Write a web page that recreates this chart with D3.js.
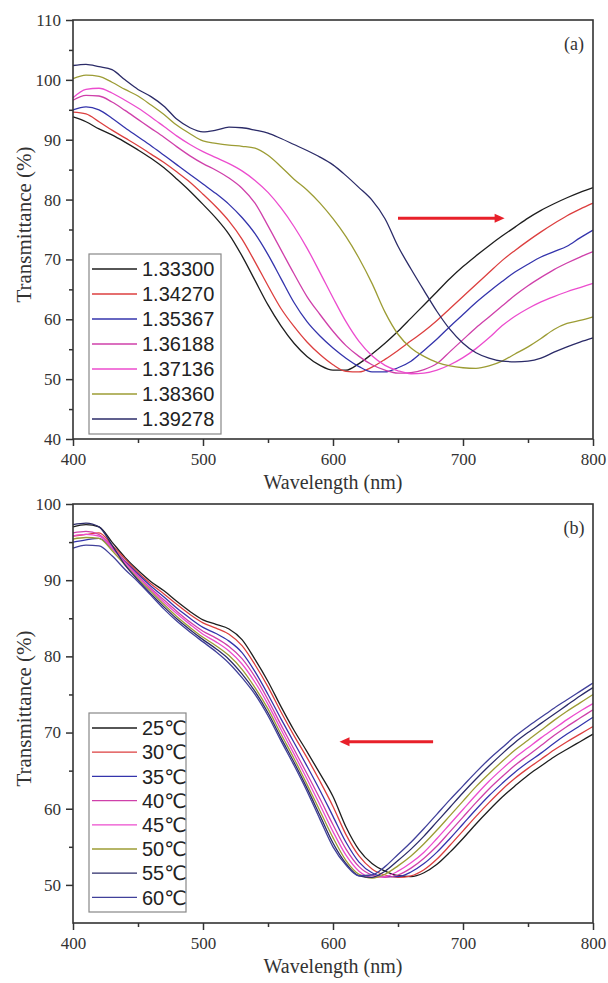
<!DOCTYPE html>
<html lang="en">
<head>
    <title>Transmittance spectra</title>
    <meta charset="utf-8">
    <script src="https://d3js.org/d3.v7.min.js"></script>
    <style>
        body { margin: 0; background: #fff; }
    </style>
</head>
<body>
<div id="chart"></div>
<script>
    // wavelength grid (nm)
    const wavelength = [400, 410, 420, 430, 440, 450, 460, 470, 480, 490,
        500, 510, 520, 530, 540, 550, 560, 570, 580, 590,
        600, 610, 620, 630, 640, 650, 660, 670, 680, 690,
        700, 710, 720, 730, 740, 750, 760, 770, 780, 790, 800];
    const xTicks = [400, 500, 600, 700, 800];
    const xMinor = [450, 550, 650, 750];

    // panel (a): refractive index series
    const riLabels = ["1.33300", "1.34270", "1.35367", "1.36188", "1.37136", "1.38360", "1.39278"];
    const ri133300 = [93.8, 93.0, 91.8, 90.8, 89.6, 88.3, 86.9, 85.3, 83.4, 81.4,
        79.2, 76.9, 74.2, 70.6, 66.5, 62.4, 58.9, 56.0, 53.8, 52.3,
        51.5, 51.5, 52.6, 54.2, 56.0, 58.0, 60.2, 62.4, 64.6, 66.8,
        68.8, 70.6, 72.3, 73.9, 75.4, 76.9, 78.2, 79.3, 80.3, 81.2, 82.0];
    const ri134270 = [94.6, 94.3, 93.0, 91.6, 90.3, 89.0, 87.6, 86.2, 84.6, 82.9,
        80.9, 78.8, 76.4, 73.4, 69.6, 65.6, 61.8, 58.8, 56.2, 54.1,
        52.4, 51.3, 51.2, 52.0, 53.3, 54.8, 56.4, 58.0, 59.8, 61.8,
        63.8, 65.8, 67.8, 69.8, 71.5, 73.1, 74.6, 76.0, 77.3, 78.4, 79.4];
    const ri135367 = [95.0, 95.5, 95.0, 93.6, 92.0, 90.5, 89.0, 87.4, 85.8, 84.2,
        82.6, 81.0, 79.2, 77.0, 74.3, 70.8, 66.8, 62.8, 59.6, 57.2,
        55.2, 53.5, 52.1, 51.2, 51.2, 51.9, 53.0, 54.8, 56.7, 58.8,
        60.8, 62.8, 64.6, 66.3, 67.9, 69.2, 70.4, 71.3, 72.2, 73.6, 74.9];
    const ri136188 = [96.6, 97.4, 97.3, 96.3, 94.9, 93.4, 91.9, 90.4, 88.8, 87.3,
        86.0, 84.9, 83.6, 81.9, 79.4, 75.6, 71.6, 67.6, 63.8, 60.8,
        58.0, 55.6, 53.8, 52.4, 51.5, 51.0, 51.1, 51.6, 52.6, 54.6,
        56.6, 58.6, 60.4, 62.2, 64.0, 65.6, 67.0, 68.3, 69.4, 70.4, 71.3];
    const ri137136 = [97.0, 98.4, 98.6, 97.8, 96.6, 95.3, 93.8, 92.2, 90.6, 89.2,
        88.0, 87.0, 86.0, 84.8, 83.2, 81.2, 78.6, 75.5, 71.9, 67.8,
        63.6, 59.6, 56.3, 53.9, 52.3, 51.4, 50.9, 51.0, 51.5, 52.4,
        53.6, 55.1, 56.9, 58.9, 60.5, 61.8, 62.9, 63.8, 64.6, 65.3, 66.0];
    const ri138360 = [100.2, 100.8, 100.6, 99.6, 98.4, 97.3, 95.8, 94.2, 92.4, 91.0,
        89.8, 89.4, 89.1, 88.9, 88.6, 87.4, 85.5, 83.4, 81.6, 79.4,
        76.8, 73.8, 70.2, 66.0, 61.2, 57.5, 55.2, 53.8, 52.8, 52.2,
        51.9, 51.8, 52.2, 53.0, 54.2, 55.4, 56.8, 58.3, 59.3, 59.8, 60.4];
    const ri139278 = [102.4, 102.6, 102.2, 101.7, 100.0, 98.4, 97.2, 95.6, 93.4, 92.0,
        91.3, 91.6, 92.1, 92.0, 91.6, 91.1, 90.2, 89.2, 88.2, 87.1,
        85.8, 84.0, 82.0, 79.9, 76.8, 72.2, 68.4, 64.8, 61.3, 58.3,
        56.0, 54.4, 53.5, 53.0, 52.9, 53.0, 53.5, 54.5, 55.4, 56.2, 56.9];

    // panel (b): temperature series
    const tLabels = ["25\u2103", "30\u2103", "35\u2103", "40\u2103", "45\u2103", "50\u2103", "55\u2103", "60\u2103"];
    const t25 = [97.0, 97.3, 97.0, 95.0, 93.0, 91.3, 89.8, 88.6, 87.2, 85.9,
        84.8, 84.2, 83.6, 82.2, 79.6, 76.7, 73.4, 70.3, 67.5, 64.6,
        61.6, 57.6, 54.6, 52.8, 51.8, 51.2, 51.1, 51.6, 52.7, 54.3,
        56.1, 58.0, 59.8, 61.5, 63.0, 64.4, 65.6, 66.8, 67.8, 68.8, 69.8];
    const t30 = [95.8, 96.0, 96.2, 94.6, 92.8, 91.0, 89.5, 88.2, 86.8, 85.5,
        84.4, 83.7, 82.9, 81.4, 78.9, 76.0, 72.7, 69.6, 66.7, 63.6,
        60.3, 56.6, 53.8, 52.1, 51.3, 51.0, 51.2, 52.0, 53.4, 55.2,
        57.1, 59.0, 60.8, 62.5, 64.0, 65.3, 66.5, 67.7, 68.8, 69.8, 70.8];
    const t35 = [95.0, 95.3, 95.5, 94.2, 92.5, 90.8, 89.2, 87.8, 86.3, 85.0,
        83.8, 83.0, 82.0, 80.5, 78.0, 75.0, 71.8, 68.7, 65.6, 62.4,
        59.0, 55.6, 53.0, 51.6, 51.1, 51.1, 51.7, 52.8, 54.3, 56.1,
        58.0, 59.9, 61.7, 63.3, 64.8, 66.1, 67.3, 68.6, 69.8, 70.9, 72.0];
    const t40 = [96.2, 96.4, 96.0, 94.4, 92.4, 90.6, 88.9, 87.4, 85.9, 84.5,
        83.3, 82.4, 81.3, 79.7, 77.3, 74.3, 71.0, 67.8, 64.6, 61.3,
        57.9, 54.7, 52.4, 51.3, 51.0, 51.3, 52.2, 53.5, 55.1, 57.0,
        58.9, 60.8, 62.6, 64.2, 65.7, 67.0, 68.3, 69.6, 70.8, 71.9, 73.0];
    const t45 = [95.8, 96.0, 95.8, 94.2, 92.2, 90.4, 88.7, 87.1, 85.6, 84.2,
        82.9, 81.9, 80.7, 79.0, 76.6, 73.7, 70.4, 67.2, 63.9, 60.5,
        57.0, 53.9, 51.8, 51.0, 51.1, 51.8, 52.9, 54.3, 56.1, 58.0,
        59.9, 61.8, 63.6, 65.2, 66.7, 68.0, 69.3, 70.5, 71.7, 72.8, 73.8];
    const t50 = [95.4, 95.6, 95.5, 93.9, 92.0, 90.2, 88.5, 86.8, 85.2, 83.8,
        82.5, 81.4, 80.1, 78.3, 75.9, 73.1, 69.8, 66.6, 63.2, 59.7,
        56.2, 53.2, 51.4, 50.9, 51.4, 52.5, 53.8, 55.4, 57.2, 59.1,
        61.0, 62.9, 64.6, 66.2, 67.7, 69.0, 70.3, 71.6, 72.8, 73.9, 75.0];
    const t55 = [97.3, 97.5, 97.0, 94.6, 92.0, 90.0, 88.2, 86.5, 84.9, 83.5,
        82.2, 81.0, 79.6, 77.7, 75.4, 72.6, 69.3, 66.1, 62.7, 59.1,
        55.5, 52.8, 51.2, 51.0, 51.8, 53.2, 54.7, 56.4, 58.3, 60.2,
        62.1, 63.9, 65.6, 67.2, 68.7, 70.0, 71.2, 72.4, 73.6, 74.8, 75.9];
    const t60 = [94.2, 94.6, 94.5, 93.2, 91.4, 89.8, 88.0, 86.2, 84.6, 83.2,
        81.9, 80.6, 79.1, 77.2, 75.0, 72.2, 68.9, 65.7, 62.3, 58.6,
        55.0, 52.6, 51.2, 51.3, 52.4, 54.0, 55.6, 57.4, 59.3, 61.2,
        63.0, 64.8, 66.5, 68.0, 69.5, 70.8, 72.0, 73.2, 74.3, 75.4, 76.5];

    const colorsA = ["#1e1e1e", "#dc3f3f", "#3434ac", "#cf40aa", "#ec4cce", "#9c9c34", "#2b2b68"];
    const colorsB = ["#1e1e1e", "#dc3f3f", "#3434ac", "#cf40aa", "#ec4cce", "#9c9c34", "#2b2b68", "#40409a"];

    const width = 608, height = 983;
    const plotLeft = 73, plotRight = 593;
    const serif = "Liberation Serif, DejaVu Serif, serif";
    const sans = "Liberation Sans, Arial, DejaVu Sans, sans-serif";

    const svg = d3.select("#chart")
        .append("svg")
        .attr("width", width)
        .attr("height", height);

    /**
     * Draws one spectrum panel with axes, legend, tag and arrow.
     */
    function drawPanel(p) {
        const x = d3.scaleLinear().domain([400, 800]).range([plotLeft, plotRight]);
        const y = d3.scaleLinear().domain(p.yDomain).range([p.bottom, p.top]);
        const g = svg.append("g");

        // spectra
        const line = d3.line()
            .x((d, i) => x(wavelength[i]))
            .y(d => y(d))
            .curve(d3.curveMonotoneX);
        g.append("g")
            .selectAll("path")
            .data(p.series)
            .join("path")
            .attr("d", line)
            .attr("fill", "none")
            .attr("stroke", (d, i) => p.colors[i])
            .attr("stroke-width", 1.3);

        // axes
        g.append("g")
            .attr("transform", `translate(0,${p.bottom})`)
            .call(d3.axisBottom(x).tickValues(xTicks).tickSize(7).tickPadding(7).tickFormat(d3.format("d")));
        g.append("g")
            .attr("transform", `translate(0,${p.bottom})`)
            .call(d3.axisBottom(x).tickValues(xMinor).tickSize(4).tickFormat(""));
        g.append("g")
            .attr("transform", `translate(${plotLeft},0)`)
            .call(d3.axisLeft(y).tickValues(p.yTicks).tickSize(7).tickPadding(5).tickFormat(d3.format("d")));
        g.append("g")
            .attr("transform", `translate(${plotLeft},0)`)
            .call(d3.axisLeft(y).tickValues(p.yMinor).tickSize(4).tickFormat(""));

        g.selectAll(".domain").remove();
        g.selectAll(".tick line").attr("stroke", "#333").attr("stroke-width", 1.5);
        g.selectAll(".tick text")
            .attr("fill", "#333")
            .attr("font-family", serif)
            .attr("font-size", 17)
            .style("font-family", serif)
            .style("font-size", "17px");

        // frame
        g.append("rect")
            .attr("x", plotLeft)
            .attr("y", p.top)
            .attr("width", plotRight - plotLeft)
            .attr("height", p.bottom - p.top)
            .attr("fill", "none")
            .attr("stroke", "#333")
            .attr("stroke-width", 1.6);

        // axis titles
        g.append("text")
            .attr("x", (plotLeft + plotRight) / 2)
            .attr("y", p.bottom + 50)
            .attr("text-anchor", "middle")
            .attr("fill", "#333")
            .style("font-family", serif)
            .style("font-size", "20px")
            .text("Wavelength (nm)");
        g.append("text")
            .attr("transform", `translate(31,${(p.top + p.bottom) / 2 - 5}) rotate(-90)`)
            .attr("text-anchor", "middle")
            .attr("fill", "#333")
            .style("font-family", serif)
            .style("font-size", "21px")
            .text("Transmittance (%)");

        // panel tag
        g.append("text")
            .attr("x", plotRight - 19)
            .attr("y", p.top + 30)
            .attr("text-anchor", "middle")
            .attr("fill", "#333")
            .style("font-family", serif)
            .style("font-size", "18px")
            .text(p.tag);

        // legend
        const lg = g.append("g");
        lg.append("rect")
            .attr("x", p.legend.x)
            .attr("y", p.legend.y)
            .attr("width", p.legend.w)
            .attr("height", p.legend.h)
            .attr("fill", "#fff")
            .attr("stroke", "#888")
            .attr("stroke-width", 1.2);
        const rows = lg.selectAll("g.row")
            .data(p.labels)
            .join("g")
            .attr("class", "row")
            .attr("transform", (d, i) => `translate(${p.legend.x},${p.legend.first + i * p.legend.step})`);
        rows.append("line")
            .attr("x1", 3).attr("x2", 48)
            .attr("stroke", (d, i) => p.colors[i])
            .attr("stroke-width", 1.3);
        rows.append("text")
            .attr("x", 53)
            .attr("dy", "0.36em")
            .attr("fill", "#222")
            .style("font-family", sans)
            .style("font-size", "20px")
            .text(d => d);

        // red arrow
        const ax1 = x(p.arrow[0]), ax2 = x(p.arrow[1]), ay = y(p.arrow[2]);
        const dir = Math.sign(ax2 - ax1);
        g.append("line")
            .attr("x1", ax1).attr("x2", ax2 - dir * 8)
            .attr("y1", ay).attr("y2", ay)
            .attr("stroke", "#e8202a")
            .attr("stroke-width", 3);
        g.append("path")
            .attr("d", `M${ax2},${ay} L${ax2 - dir * 10},${ay - 4.5} L${ax2 - dir * 10},${ay + 4.5} Z`)
            .attr("fill", "#e8202a");
    }

    drawPanel({
        top: 20, bottom: 439,
        yDomain: [40, 110],
        yTicks: [40, 50, 60, 70, 80, 90, 100, 110],
        yMinor: [45, 55, 65, 75, 85, 95, 105],
        series: [ri133300, ri134270, ri135367, ri136188, ri137136, ri138360, ri139278],
        labels: riLabels,
        colors: colorsA,
        tag: "(a)",
        legend: {x: 89, y: 254, w: 132, h: 180, first: 269, step: 25},
        arrow: [650, 732, 76.9]
    });

    drawPanel({
        top: 504, bottom: 923,
        yDomain: [45, 100],
        yTicks: [50, 60, 70, 80, 90, 100],
        yMinor: [55, 65, 75, 85, 95],
        series: [t25, t30, t35, t40, t45, t50, t55, t60],
        labels: tLabels,
        colors: colorsB,
        tag: "(b)",
        legend: {x: 89, y: 713, w: 97, h: 199, first: 728, step: 24.2},
        arrow: [677, 605, 68.8]
    });
</script>
</body>
</html>
